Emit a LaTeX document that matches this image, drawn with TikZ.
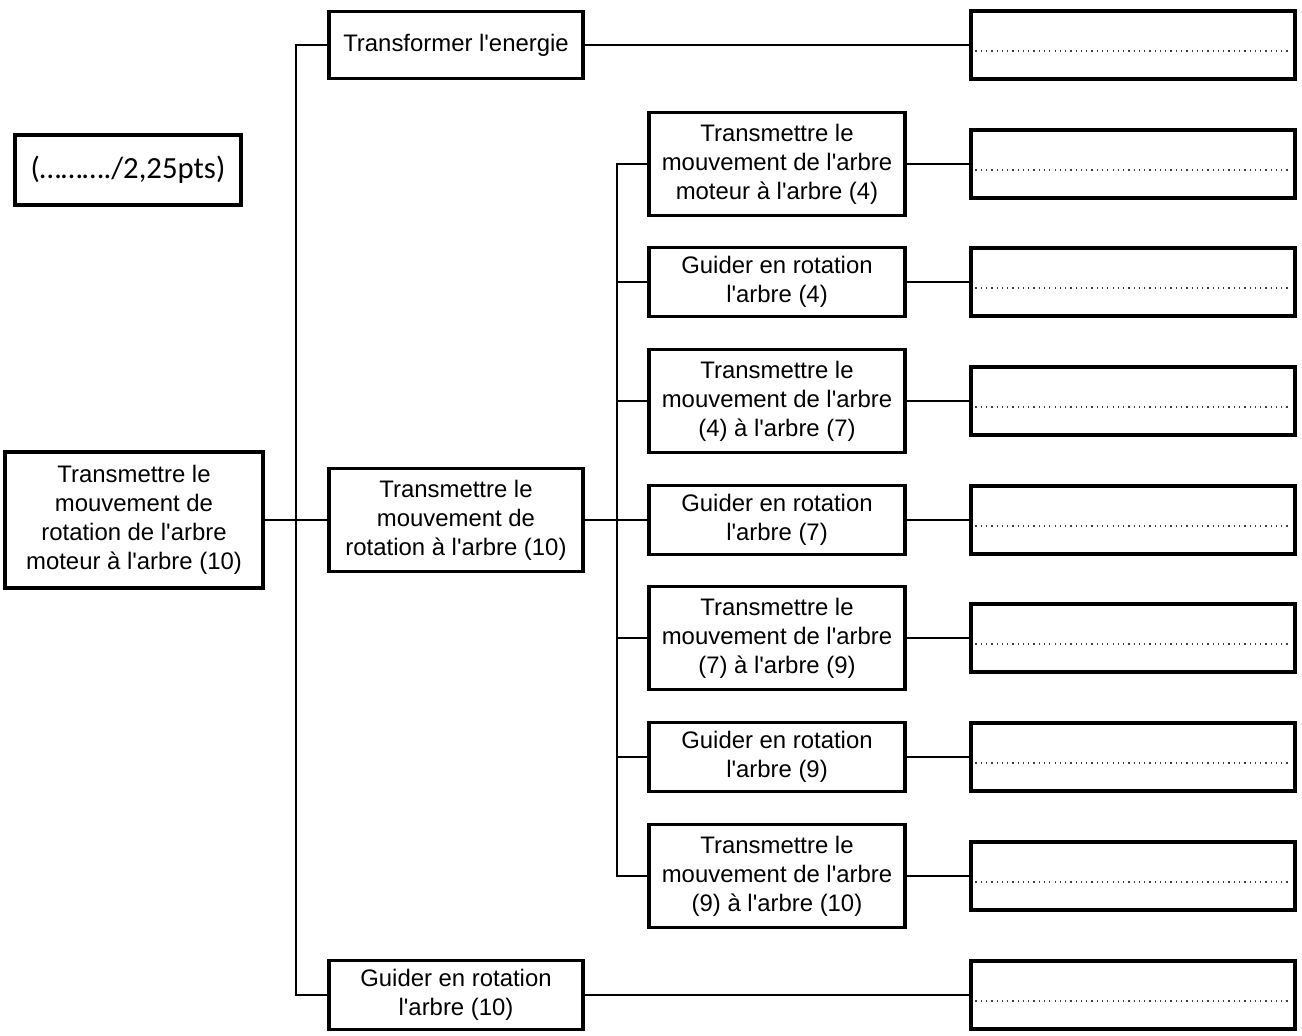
\documentclass[tikz,border=0pt]{standalone}
\usepackage{fontspec}
\setmainfont{Liberation Sans}[Ligatures=TeXOff]
\newfontfamily\notefont{Carlito}
\usetikzlibrary{positioning,calc}
\tikzset{
  fbox/.style={draw, line width=1.8pt, align=center, inner sep=0pt, fill=white,
    font=\fontsize{13.6}{16.6}\selectfont},
  lvlone/.style={fbox, minimum width=5.08cm},
  lvltwo/.style={fbox, minimum width=5.12cm},
  tall/.style={minimum height=2.05cm},
  short/.style={minimum height=1.38cm},
  answer/.style={draw, line width=1.8pt, minimum width=6.48cm, minimum height=1.36cm},
  dots/.style={line width=0.7pt, dash pattern=on 0.7pt off 2.3pt, gray!50!black},
  link/.style={line width=0.6pt},
}

\begin{document}
\begin{tikzpicture}[x=0.02cm, y=-0.02cm]
    \useasboundingbox (0,0) rectangle (1302,1035);

    % Score box
    \node[draw, line width=1.8pt, minimum width=4.52cm, minimum height=1.4cm,
      font=\notefont\fontsize{17.5}{20}\selectfont] (score) at (128,170) {(………./2,25pts)};

    % Main function
    \node[fbox, minimum width=5.16cm, minimum height=2.72cm] (main) at (134,520)
      {Transmettre le\\mouvement de\\rotation de l'arbre\\moteur à l'arbre (10)};

    % First level
    \node[lvlone, minimum height=1.34cm] (energie) at (456,45) {Transformer l'energie};
    \node[lvlone, tall] (rotation) at (456,520)
      {Transmettre le\\mouvement de\\rotation à l'arbre (10)};
    \node[lvlone, short] (guidedix) at (456,995) {Guider en rotation\\l'arbre (10)};

    % Second level
    \node[lvltwo, tall] (transquatre) at (777,164)
      {Transmettre le\\mouvement de l'arbre\\moteur à l'arbre (4)};
    \node[lvltwo, short] (guidequatre) at (777,282) {Guider en rotation\\l'arbre (4)};
    \node[lvltwo, tall] (transsept) at (777,401)
      {Transmettre le\\mouvement de l'arbre\\(4) à l'arbre (7)};
    \node[lvltwo, short] (guidesept) at (777,520) {Guider en rotation\\l'arbre (7)};
    \node[lvltwo, tall] (transneuf) at (777,638)
      {Transmettre le\\mouvement de l'arbre\\(7) à l'arbre (9)};
    \node[lvltwo, short] (guideneuf) at (777,757) {Guider en rotation\\l'arbre (9)};
    \node[lvltwo, tall] (transdix) at (777,876)
      {Transmettre le\\mouvement de l'arbre\\(9) à l'arbre (10)};

    % Branch points
    \coordinate (forkone) at (296,520);
    \coordinate (forktwo) at (617,520);

    % Tree connectors
    \draw[link] (main.east) -- (rotation.west);
    \draw[link] (energie.west) -| (forkone) |- (guidedix.west);
    \draw[link] (rotation.east) -- (guidesept.west);
    \draw[link] (transquatre.west) -| (forktwo) |- (transdix.west);
    \foreach \n in {guidequatre, transsept, transneuf, guideneuf}
      \draw[link] (forktwo |- \n.west) -- (\n.west);

    % Answer boxes with dotted lines
    \foreach \n/\r in {energie/aone, transquatre/atwo, guidequatre/athree, transsept/afour,
        guidesept/afive, transneuf/asix, guideneuf/aseven, transdix/aeight, guidedix/anine} {
      \node[answer] (\r) at (1133,0 |- \n.center) {};
      \draw[dots] ($(\r.west)+(6,6)$) -- ($(\r.east)+(-6,6)$);
      \draw[link] (\n.east) -- (\r.west);
    }
\end{tikzpicture}
\end{document}
